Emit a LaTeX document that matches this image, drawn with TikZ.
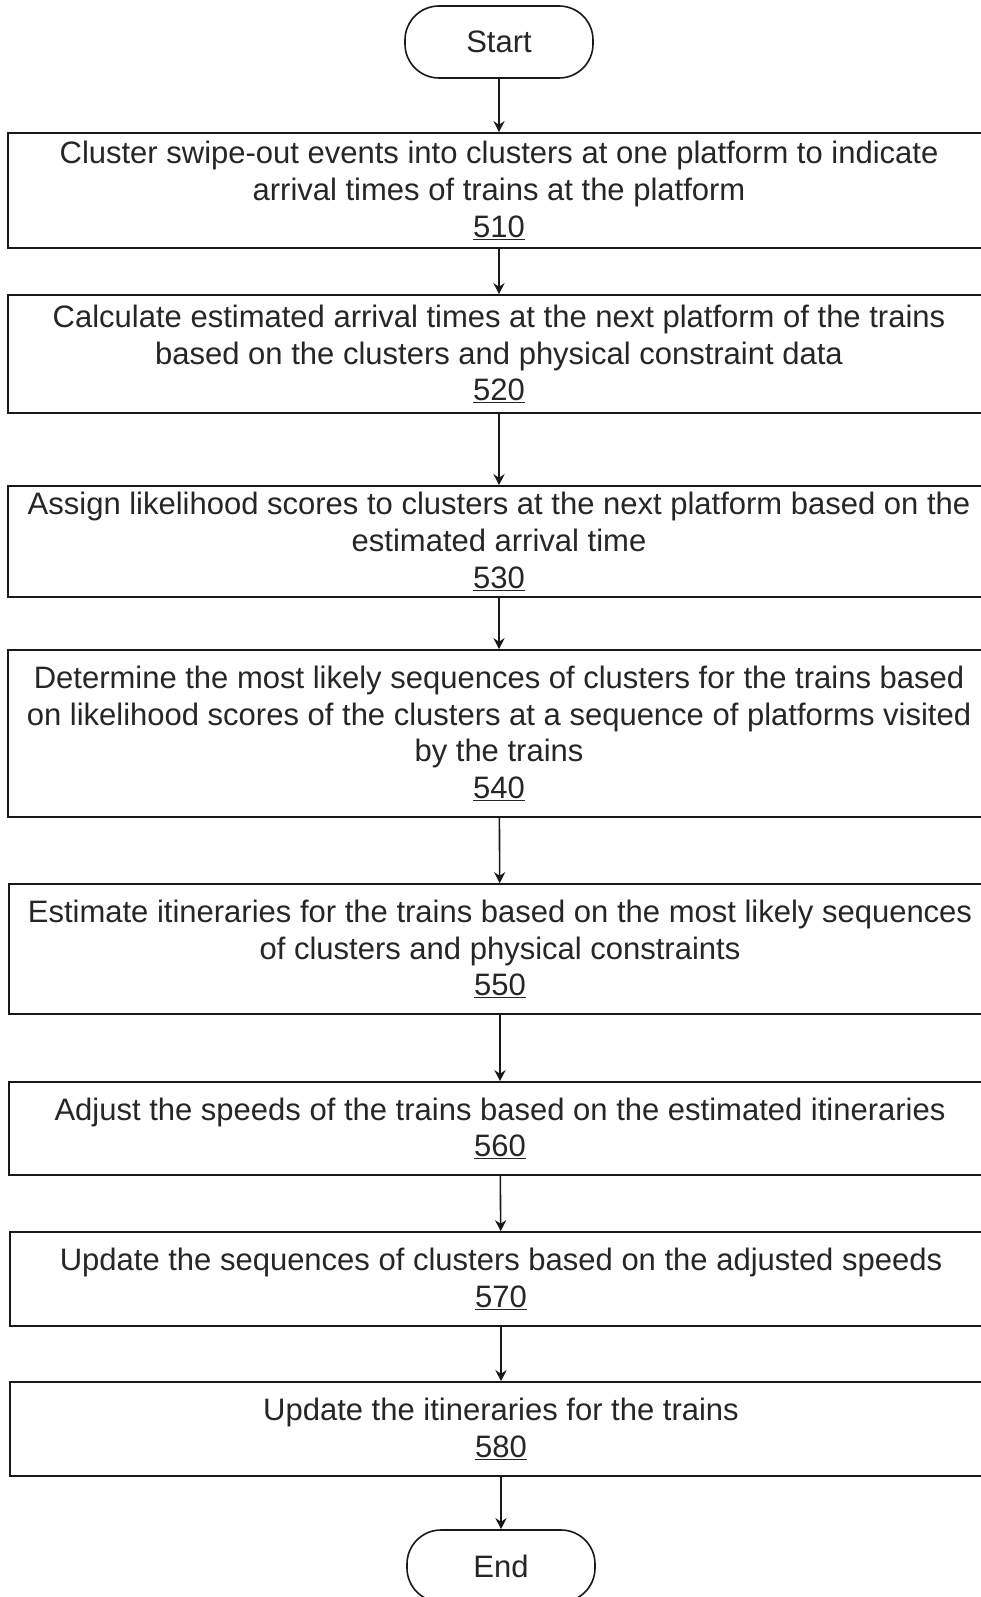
\documentclass[tikz,border=0pt]{standalone}
\usepackage{fontspec}
\setmainfont{Liberation Sans}
\usetikzlibrary{arrows.meta}
\begin{document}
\begin{tikzpicture}[x=1pt,y=1pt,
  every node/.style={font=\fontsize{31}{36.7}\selectfont, text=black!85},
  stepbox/.style={draw=black!90, line width=1.6pt, rectangle, minimum width=982pt, align=center, inner sep=0pt},
  terminal/.style={draw=black!90, line width=1.6pt, rectangle, rounded corners=34pt, minimum width=188pt, minimum height=72pt, inner sep=0pt},
  flow/.style={draw=black!90, line width=1.6pt, -{Stealth[length=11pt,width=11pt]}}]
\useasboundingbox (0,0) rectangle (981,-1597);
\fill[white] (0,0) rectangle (981,-1597);

\node[terminal] (start) at (499,-42) {Start};
\node[stepbox, minimum height=115pt] (s510) at (499,-190.5)
  {Cluster swipe-out events into clusters at one platform to indicate\\arrival times of trains at the platform\\\underline{510}};
\node[stepbox, minimum height=118pt] (s520) at (499,-354)
  {Calculate estimated arrival times at the next platform of the trains\\based on the clusters and physical constraint data\\\underline{520}};
\node[stepbox, minimum height=111pt] (s530) at (499,-541.5)
  {Assign likelihood scores to clusters at the next platform based on the\\estimated arrival time\\\underline{530}};
\node[stepbox, minimum height=167pt] (s540) at (499,-733.5)
  {Determine the most likely sequences of clusters for the trains based\\on likelihood scores of the clusters at a sequence of platforms visited\\by the trains\\\underline{540}};
\node[stepbox, minimum height=130pt] (s550) at (500,-949)
  {Estimate itineraries for the trains based on the most likely sequences\\of clusters and physical constraints\\\underline{550}};
\node[stepbox, minimum height=93pt] (s560) at (500,-1128.5)
  {Adjust the speeds of the trains based on the estimated itineraries\\\underline{560}};
\node[stepbox, minimum height=94pt] (s570) at (501,-1279)
  {Update the sequences of clusters based on the adjusted speeds\\\underline{570}};
\node[stepbox, minimum height=94pt] (s580) at (501,-1429)
  {Update the itineraries for the trains\\\underline{580}};
\node[terminal] (end) at (501,-1566) {End};

\draw[flow] (start) -- (s510);
\draw[flow] (s510) -- (s520);
\draw[flow] (s520) -- (s530);
\draw[flow] (s530) -- (s540);
\draw[flow] (s540) -- (s550);
\draw[flow] (s550) -- (s560);
\draw[flow] (s560) -- (s570);
\draw[flow] (s570) -- (s580);
\draw[flow] (s580) -- (end);
\end{tikzpicture}
\end{document}
